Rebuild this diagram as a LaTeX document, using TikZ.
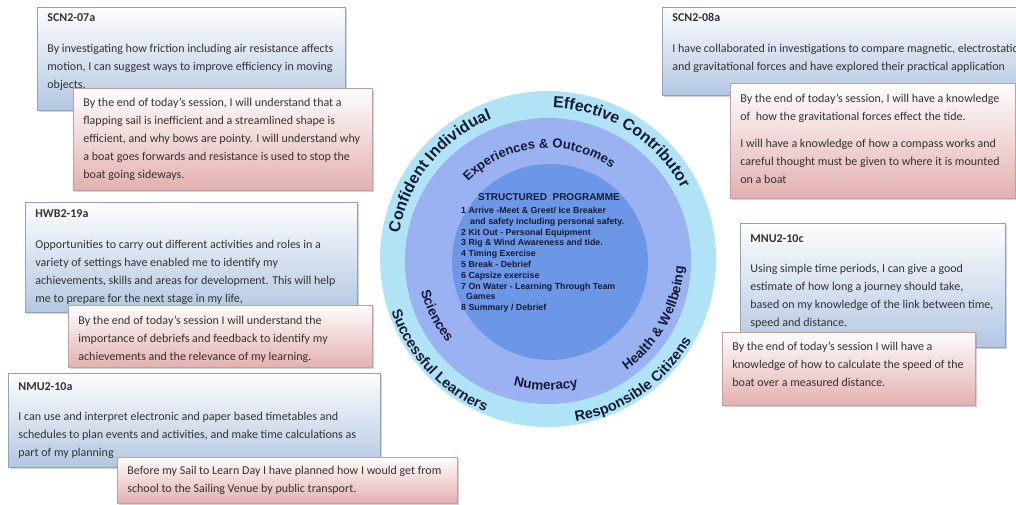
\documentclass[tikz,border=0pt]{standalone}
\usepackage{fontspec}
\setmainfont{Carlito}
\newfontfamily\ringfont{Liberation Sans}
\usetikzlibrary{positioning,shadows,decorations.text}

\definecolor{ringout}{HTML}{B0E3F6}
\definecolor{ringmid}{HTML}{9AB2F2}
\definecolor{ringin}{HTML}{6C97E6}
\definecolor{inkring}{HTML}{161B36}
\definecolor{boxblue}{HTML}{B3C7E2}
\definecolor{edgeblue}{HTML}{8CA4C4}
\definecolor{boxred}{HTML}{E4B0B0}
\definecolor{edgered}{HTML}{C69E9E}

\newcommand{\bigring}{\ringfont\bfseries\fontsize{16}{18}\selectfont}
\newcommand{\lowring}{\ringfont\bfseries\fontsize{14.5}{16}\selectfont}
\newcommand{\midring}{\ringfont\bfseries\fontsize{13}{15}\selectfont}
\newcommand{\smallring}{\ringfont\bfseries\fontsize{13.5}{15}\selectfont}
% width, height, top pad, text
\newcommand{\cardtext}[4]{\parbox[t][#2pt][t]{#1pt}{\raggedright\leftskip=10pt\vspace*{#3pt}\strut#4}}

\tikzset{
  outcome/.style={rectangle,draw=edgeblue,line width=0.8pt,
    top color=white!97!boxblue,bottom color=boxblue,
    drop shadow={shadow xshift=2pt,shadow yshift=-2pt,opacity=0.35},
    anchor=north west,inner sep=0pt,
    font=\fontsize{12}{18}\selectfont,text=black!80},
  target/.style={outcome,draw=edgered,top color=white!97!boxred,bottom color=boxred},
  ringlabel/.style={decorate,decoration={text along path,text align=center,text color=inkring}}
}

\begin{document}
\begin{tikzpicture}[x=1pt,y=1pt]
\useasboundingbox (0,0) rectangle (1016,-504);

% the three rings
\begin{scope}[every node/.style={circle,inner sep=0pt,draw=none}]
    \node[fill=ringout,minimum size=336pt] (O) at (548,-259) {};
    \node[fill=ringmid,minimum size=286pt] (M) at (548,-261) {};
    \node[fill=ringin,minimum size=196pt] (I) at (550,-262) {};
\end{scope}

\begin{scope}[shift={(O.center)}]
    \path[ringlabel,decoration={text={|\bigring|Confident Individual}}]
        (181:151) arc[start angle=181,end angle=101,radius=151];
    \path[ringlabel,decoration={text={|\bigring|Effective Contributor}}]
        (98:151) arc[start angle=98,end angle=18,radius=151];
    \path[ringlabel,decoration={text={|\lowring|Successful Learners}}]
        (183:165) arc[start angle=183,end angle=263,radius=165];
    \path[ringlabel,decoration={text={|\lowring|Responsible Citizens}}]
        (265:165) arc[start angle=265,end angle=345,radius=165];
    \path[ringlabel,decoration={text={|\midring|Experiences {\&} Outcomes}}]
        (145:111) arc[start angle=145,end angle=46,radius=111];
    \path[ringlabel,decoration={text={|\smallring|Sciences}}]
        (187:131) arc[start angle=187,end angle=227,radius=131];
    \path[ringlabel,decoration={text={|\smallring|Numeracy}}]
        (239:131) arc[start angle=239,end angle=299,radius=131];
    \path[ringlabel,decoration={text={|\smallring|Health {\&} Wellbeing}}]
        (291:136) arc[start angle=291,end angle=371,radius=136];
\end{scope}

% programme in the middle
\begin{scope}[every node/.style={inner sep=0pt,text=inkring}]
    \node[font=\ringfont\bfseries\fontsize{10}{12}\selectfont] (P) at (549,-197) {STRUCTURED\ \ PROGRAMME};
    \node[anchor=north west,align=left,font=\ringfont\bfseries\fontsize{8.8}{10.8}\selectfont] (L) at (461,-207) {%
        1 Arrive -Meet \& Greet/ Ice Breaker\\
        \hspace*{9pt}and safety including personal safety.\\
        2 Kit Out - Personal Equipment\\
        3 Rig \& Wind Awareness and tide.\\
        4 Timing Exercise\\
        5 Break - Debrief\\
        6 Capsize exercise\\
        7 On Water - Learning Through Team\\
        \hspace*{5pt}Games\\
        8 Summary / Debrief};
\end{scope}

% experiences and outcomes
\node[outcome] (B1) at (37,-7) {\cardtext{308}{103}{1}{\textbf{SCN2-07a}\\[13pt]
    By investigating how friction including air resistance affects\\
    motion, I can suggest ways to improve efficiency in moving\\
    objects.}};
\node[target] (R1) at (73,-88) {\cardtext{299}{102}{5}{By the end of today’s session, I will understand that a\\
    flapping sail is inefficient and a streamlined shape is\\
    efficient, and why bows are pointy. I will understand why\\
    a boat goes forwards and resistance is used to stop the\\
    boat going sideways.}};

\node[outcome] (B2) at (662,-7) {\cardtext{380}{88}{1}{\textbf{SCN2-08a}\\[13pt]
    I have collaborated in investigations to compare magnetic, electrostatic\\
    and gravitational forces and have explored their practical application}};
\node[target] (R2) at (730,-83) {\cardtext{285}{115}{6}{By the end of today’s session, I will have a knowledge\\
    of \ how the gravitational forces effect the tide.\\[9pt]
    I will have a knowledge of how a compass works and\\
    careful thought must be given to where it is mounted\\
    on a boat}};

\node[outcome] (B3) at (25,-202) {\cardtext{332}{110}{2}{\textbf{HWB2-19a}\\[13pt]
    Opportunities to carry out different activities and roles in a\\
    variety of settings have enabled me to identify my\\
    achievements, skills and areas for development. This will help\\
    me to prepare for the next stage in my life,}};
\node[target] (R3) at (68,-305) {\cardtext{304}{62}{6}{By the end of today’s session I will understand the\\
    importance of debriefs and feedback to identify my\\
    achievements and the relevance of my learning.}};

\node[outcome] (B4) at (740,-223) {\cardtext{265}{124}{6}{\textbf{MNU2-10c}\\[12pt]
    Using simple time periods, I can give a good\\
    estimate of how long a journey should take,\\
    based on my knowledge of the link between time,\\
    speed and distance.}};
\node[target] (R4) at (722,-332) {\cardtext{253}{73}{5}{By the end of today’s session I will have a\\
    knowledge of how to calculate the speed of the\\
    boat over a measured distance.}};

\node[outcome] (B5) at (8,-373) {\cardtext{372}{94}{4}{\textbf{NMU2-10a}\\[12pt]
    I can use and interpret electronic and paper based timetables and\\
    schedules to plan events and activities, and make time calculations as\\
    part of my planning}};
\node[target] (R5) at (117,-457) {\cardtext{340}{46}{4}{Before my Sail to Learn Day I have planned how I would get from\\
    school to the Sailing Venue by public transport.}};
\end{tikzpicture}
\end{document}
